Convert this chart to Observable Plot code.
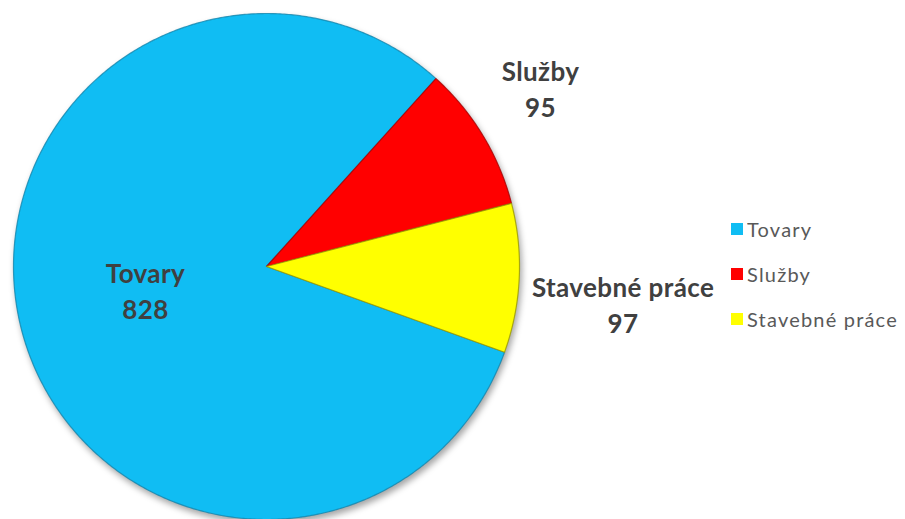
<!DOCTYPE html>
<html><head><meta charset="utf-8">
<script src="https://cdn.jsdelivr.net/npm/d3@7"></script>
<script src="https://cdn.jsdelivr.net/npm/@observablehq/plot@0.6"></script>
<style>
body{margin:0;background:#fff;}
#chart{position:relative;width:905px;height:519px;overflow:hidden;}
#legend{position:absolute;left:731px;top:207px;}
.lg-swatch{height:44px !important;margin:0 !important;font-family:Lato,"Open Sans",sans-serif;font-size:20px;letter-spacing:1.2px;color:#595959;}
.lg-swatch svg{margin-right:4px !important;}
</style></head><body><div id="chart"></div>
<script>
// ---- data ----
const categories = ["Tovary", "Služby", "Stavebné práce"];
const values = [828, 95, 97];
const colors = ["#10bdf3", "#ff0000", "#ffff00"];
const edgeColors = ["#1486ad", "#a80000", "#9a9a00"];
const startAngleDeg = 109.8;

// ---- layout ----
const W = 905, H = 519, CX = 266, CY = 266, R = 253;
const labelRadius = [0.487, 1.293, 1.417];
const labelAngleShift = [3.3, -1.9, 3.3];

const pie = d3.pie().sort(null)
  .startAngle(startAngleDeg * Math.PI / 180)
  .endAngle(startAngleDeg * Math.PI / 180 + 2 * Math.PI);
const arcs = pie(values);

const pts = [];
arcs.forEach((a, i) => {
  const cat = categories[i];
  const n = Math.max(8, Math.ceil((a.endAngle - a.startAngle) / (Math.PI / 360)));
  pts.push({cat, x: 0, y: 0});
  for (let k = 0; k <= n; k++) {
    const t = a.startAngle + (a.endAngle - a.startAngle) * k / n;
    pts.push({cat, x: Math.sin(t), y: Math.cos(t)});
  }
  pts.push({cat, x: 0, y: 0});
});

const labels = arcs.map((a, i) => {
  const mid = (a.startAngle + a.endAngle) / 2 + labelAngleShift[i] * Math.PI / 180;
  return {text: `${categories[i]}\n${values[i]}`, x: labelRadius[i] * Math.sin(mid), y: labelRadius[i] * Math.cos(mid)};
});

const xDomain = [-CX / R, (W - CX) / R];
const yDomain = [-(H - CY) / R, CY / R];

const plot = Plot.plot({
  width: W, height: H,
  margin: 0,
  x: {domain: xDomain, range: [0, W], axis: null},
  y: {domain: yDomain, range: [H, 0], axis: null},
  color: {domain: categories, range: colors},
  style: {background: "#fff", overflow: "visible"},
  marks: [
    Plot.line(pts, {x: "x", y: "y", z: "cat", fill: "cat", stroke: (d) => edgeColors[categories.indexOf(d.cat)], strokeWidth: 1.2, strokeOpacity: 0.8, curve: "linear-closed"}),
    Plot.text(labels, {x: "x", y: "y", text: "text", fontSize: 26, fontWeight: "bold", fill: "#404040", fontFamily: "Lato, 'Open Sans', sans-serif", lineHeight: 1.38, textAnchor: "middle", lineAnchor: "middle"})
  ]
});
d3.select(plot).selectAll("g[aria-label='line']").style("filter", "drop-shadow(2px 4px 3px rgba(0,0,0,0.35))");
d3.select(plot).selectAll("g[aria-label='text'] text").style("letter-spacing", "0.4px");
document.getElementById("chart").appendChild(plot);

const legend = Plot.legend({
  color: {type: "categorical", domain: categories, range: colors},
  legend: "swatches", columns: 1, swatchSize: 12, className: "lg"
});
legend.id = "legend";
document.getElementById("chart").appendChild(legend);
</script></body></html>
